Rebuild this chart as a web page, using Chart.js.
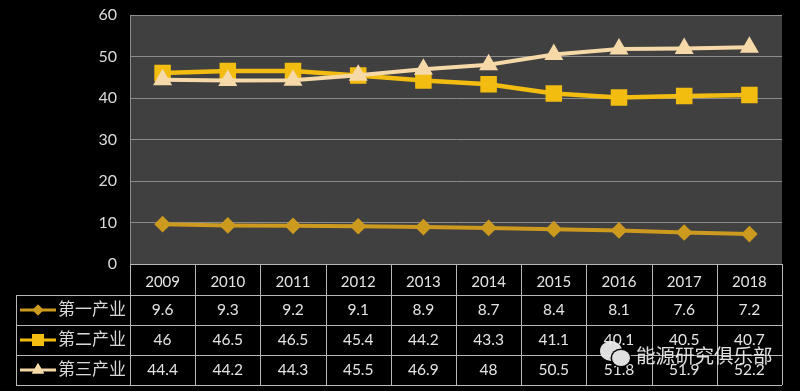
<!DOCTYPE html>
<html>
<head>
<meta charset="utf-8">
<style>
html, body { margin: 0; padding: 0; background: #000; }
#wrap { width: 800px; height: 391px; }
</style>
<script src="https://cdn.jsdelivr.net/npm/chart.js@4/dist/chart.umd.min.js"></script>
</head>
<body>
<div id="wrap"><canvas id="chart" width="800" height="391"></canvas></div>
<script>
const years = ['2009','2010','2011','2012','2013','2014','2015','2016','2017','2018'];
const yTicks = [0,10,20,30,40,50,60];
const seriesNames = ['第一产业','第二产业','第三产业'];
const primary = [9.6,9.3,9.2,9.1,8.9,8.7,8.4,8.1,7.6,7.2];
const secondary = [46,46.5,46.5,45.4,44.2,43.3,41.1,40.1,40.5,40.7];
const tertiary = [44.4,44.2,44.3,45.5,46.9,48,50.5,51.8,51.9,52.2];
const watermark = '能源研究俱乐部';

const latin = 'Lato, "Noto Sans CJK SC", sans-serif';
const cjk = '"Noto Sans CJK SC", sans-serif';
const colPrimary = '#cc9a1e';
const colSecondary = '#f2bd10';
const colTertiary = '#f6d9a8';
const lineGray = '#b8b8b8';

// draws the plot background behind the lines
const plotBg = {
  id: 'plotBg',
  beforeDraw(chart) {
    const a = chart.chartArea, ctx = chart.ctx;
    ctx.save();
    ctx.fillStyle = '#000';
    ctx.fillRect(0, 0, chart.width, chart.height);
    ctx.fillStyle = '#404040';
    ctx.fillRect(a.left, a.top, a.right - a.left, a.bottom - a.top);
    ctx.restore();
  }
};

// data table under the plot
const dataTable = {
  id: 'dataTable',
  afterDraw(chart) {
    const ctx = chart.ctx, a = chart.chartArea, xs = chart.scales.x;
    const tableLeft = 16, rowH = 30, rowTop = a.bottom + 31;
    const rows = [primary, secondary, tertiary];
    const bottom = rowTop + rowH * 3;
    const step = (a.right - a.left) / years.length;
    ctx.save();
    ctx.strokeStyle = lineGray;
    ctx.lineWidth = 1;
    ctx.beginPath();
    ctx.moveTo(a.left, a.bottom + 0.5); ctx.lineTo(a.right, a.bottom + 0.5);
    for (let r = 0; r <= 3; r++) {
      const y = Math.round(rowTop + rowH * r) + 0.5;
      ctx.moveTo(tableLeft, y); ctx.lineTo(a.right, y);
    }
    for (let c = 0; c <= years.length; c++) {
      const x = Math.round(a.left + step * c) + 0.5;
      ctx.moveTo(x, a.bottom); ctx.lineTo(x, bottom);
    }
    ctx.moveTo(tableLeft + 0.5, rowTop); ctx.lineTo(tableLeft + 0.5, bottom);
    ctx.stroke();

    ctx.textBaseline = 'middle';
    rows.forEach((vals, r) => {
      const cy = rowTop + rowH * r + rowH / 2;
      const ds = chart.data.datasets[r];
      // legend key
      ctx.strokeStyle = ds.borderColor;
      ctx.fillStyle = ds.borderColor;
      ctx.lineWidth = 3;
      ctx.beginPath();
      ctx.moveTo(20, cy); ctx.lineTo(56, cy);
      ctx.stroke();
      Chart.helpers.drawPoint(ctx, { pointStyle: ds.pointStyle, radius: ds.pointRadius, rotation: 0, borderWidth: 0 }, 38, cy);
      ctx.fill();
      ctx.fillStyle = '#d8d8d8';
      ctx.font = '17px ' + cjk;
      ctx.textAlign = 'left';
      ctx.fillText(seriesNames[r], 58, cy - 1);
      ctx.font = '15.5px ' + latin;
      ctx.textAlign = 'center';
      ctx.fillStyle = '#e4e4e4';
      vals.forEach((v, i) => ctx.fillText(String(v), xs.getPixelForValue(i), cy));
    });

    // watermark
    ctx.fillStyle = 'rgba(235,235,235,0.95)';
    ctx.beginPath(); ctx.ellipse(611, 351, 11, 10, 0, 0, Math.PI * 2); ctx.fill();
    ctx.fillStyle = '#000';
    ctx.beginPath(); ctx.ellipse(621, 358, 10.5, 9.5, 0, 0, Math.PI * 2); ctx.fill();
    ctx.fillStyle = 'rgba(235,235,235,0.95)';
    ctx.beginPath(); ctx.ellipse(621, 358, 9, 8, 0, 0, Math.PI * 2); ctx.fill();
    ctx.font = '19.5px ' + cjk;
    ctx.textAlign = 'left';
    ctx.fillText(watermark, 636, 356);
    ctx.restore();
  }
};

new Chart(document.getElementById('chart'), {
  type: 'line',
  data: {
    labels: years,
    datasets: [
      { label: seriesNames[0], data: primary, order: 3, borderColor: colPrimary, backgroundColor: colPrimary, borderWidth: 4, pointStyle: 'rectRot', pointRadius: 5.5, tension: 0 },
      { label: seriesNames[1], data: secondary, order: 2, borderColor: colSecondary, backgroundColor: colSecondary, borderWidth: 4.5, pointStyle: 'rect', pointRadius: 8.5, tension: 0 },
      { label: seriesNames[2], data: tertiary, order: 1, borderColor: colTertiary, backgroundColor: colTertiary, borderWidth: 4, pointStyle: 'triangle', pointRadius: 7, tension: 0 }
    ]
  },
  options: {
    responsive: false,
    animation: false,
    layout: { padding: { top: 15, right: 18, left: 0, bottom: 0 } },
    plugins: { legend: { display: false }, tooltip: { enabled: false } },
    scales: {
      x: {
        offset: true,
        afterFit(scale) { scale.height = 127; scale.paddingTop = 0; },
        grid: { display: false },
        border: { display: false },
        ticks: { color: '#e4e4e4', font: { family: latin, size: 15 }, padding: 1, maxRotation: 0, autoSkip: false }
      },
      y: {
        min: 0,
        max: 60,
        afterFit(scale) { scale.width = 130; scale.paddingTop = 0; scale.paddingBottom = 0; },
        afterBuildTicks(scale) { scale.ticks = yTicks.map(v => ({ value: v })); },
        grid: { color: '#8c8c8c', lineWidth: 1, drawTicks: false },
        border: { color: '#8c8c8c' },
        ticks: { color: '#dcdcdc', font: { family: latin, size: 16 }, padding: 13 }
      }
    }
  },
  plugins: [plotBg, dataTable]
});
</script>
</body>
</html>
